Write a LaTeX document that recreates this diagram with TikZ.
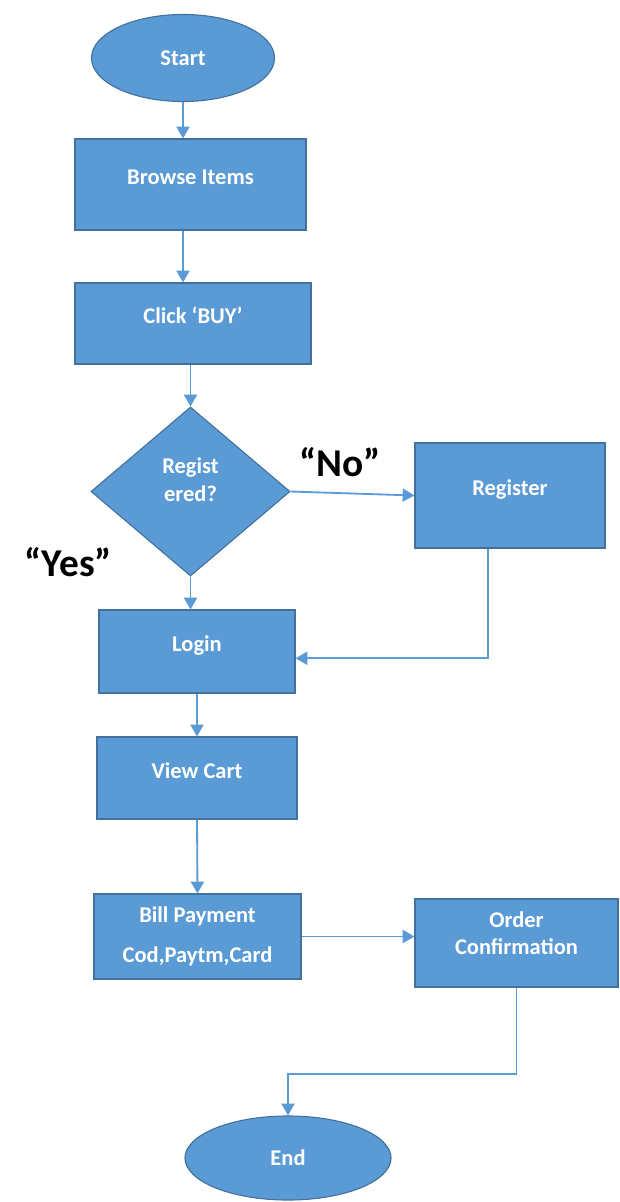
\documentclass[tikz,border=0pt]{standalone}
\usepackage{fontspec}
\setmainfont{Carlito}
\usetikzlibrary{arrows,shapes,positioning}
\definecolor{boxblue}{HTML}{5B9BD5}
\definecolor{boxline}{HTML}{41719C}
\tikzset{>=triangle 60}
\tikzset{terminal/.style={ellipse,  fill=boxblue,draw=boxline,text=white,line width=0.8pt,font=\bfseries\fontsize{16}{19}\selectfont,inner sep=0mm}}
\tikzset{process/.style={rectangle,fill=boxblue,draw=boxline,text=white,line width=0.8pt,font=\bfseries\fontsize{16}{19}\selectfont,inner sep=0mm,align=center}}
\tikzset{oneline/.style={process,text height=0.35cm,text depth=0.35cm}}
\tikzset{decision/.style={diamond,  fill=boxblue,draw=boxline,text=white,line width=0.8pt,font=\bfseries\fontsize{16}{19}\selectfont,inner sep=0mm,align=center}}
\tikzset{flow/.style={->,draw=boxblue,line width=1.3pt}}
\tikzset{answer/.style={font=\bfseries\fontsize{28}{32}\selectfont,inner sep=0mm}}

\begin{document}
\begin{tikzpicture}[x=0.025cm,y=-0.025cm]
    \useasboundingbox (0,0) rectangle (619,1202);

    \node[terminal,minimum width=4.575cm,minimum height=2.175cm] (start) at (183,58) {Start};
    \node[oneline,minimum width=5.775cm,minimum height=2.275cm] (browse) at (190.5,184.5) {Browse Items};
    \node[oneline,minimum width=5.9cm,minimum height=2.025cm] (click) at (193,323.5) {Click `BUY'};
    \node[decision,minimum width=4.975cm,minimum height=4.225cm,text depth=0.6cm] (reg) at (190.5,491.5) {Regist\\[1pt]ered?};
    \node[oneline,minimum width=4.75cm,minimum height=2.625cm] (register) at (510,495.5) {Register};
    \node[oneline,minimum width=4.9cm,minimum height=2.075cm] (login) at (197,651.5) {Login};
    \node[oneline,minimum width=5cm,minimum height=2.05cm] (cart) at (197,778) {View Cart};
    \node[process,minimum width=5.175cm,minimum height=2.125cm] (bill) at (197.5,936.5) {Bill Payment\\[9pt]Cod,Paytm,Card};
    \node[process,minimum width=5.075cm,minimum height=2.2cm,text depth=0.5cm] (order) at (516.5,943) {Order\\Confirmation};
    \node[terminal,minimum width=5.15cm,minimum height=2.1cm] (end) at (288,1158) {End};

    \draw[flow] (start.south) -- (start.south |- browse.north);
    \draw[flow] (start.south |- browse.south) -- (start.south |- click.north);
    \draw[flow] (reg.north |- click.south) -- (reg.north);
    \draw[flow] (reg.east) -- (register.west);
    \draw[flow] (reg.south) -- (reg.south |- login.north);
    \draw[flow] ([xshift=-0.55cm]register.south) |- ([yshift=-0.17cm]login.east);
    \draw[flow] (login.south) -- (cart.north);
    \draw[flow] (cart.south) -- (bill.north);
    \draw[flow] (bill.east) -- (bill.east -| order.west);
    \draw[flow] (order.south) -- ++(0,86) -| (end.north);

    \node[answer] (no)  at (340,462) {“No”};
    \node[answer] (yes) at (68,562)  {“Yes”};
\end{tikzpicture}
\end{document}
